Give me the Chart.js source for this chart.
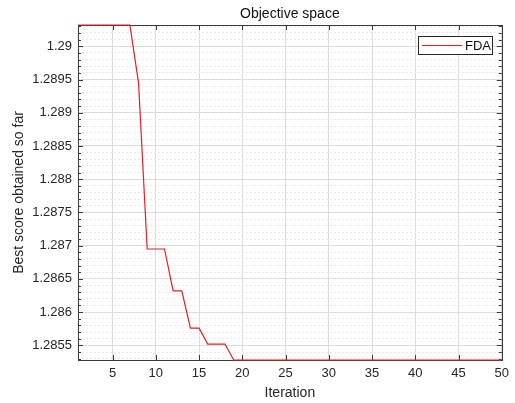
<!DOCTYPE html>
<html>
<head>
<meta charset="utf-8">
<script src="https://cdn.jsdelivr.net/npm/chart.js@4"></script>
<style>
  body { margin: 0; background: #fff; }
  #wrap { width: 515px; height: 403px; }
</style>
</head>
<body>
<div id="wrap"><canvas id="myChart" width="515" height="403"></canvas></div>
<script>
var iterations = [];
for (var i = 1; i <= 50; i++) iterations.push(i);

var bestScore = [
  1.29032, 1.29032, 1.29032, 1.29032, 1.29032, 1.29032, 1.29032,
  1.28945,
  1.28695, 1.28695, 1.28695,
  1.28632, 1.28632,
  1.28576, 1.28576,
  1.28552, 1.28552, 1.28552,
  1.28528, 1.28528, 1.28528, 1.28528, 1.28528, 1.28528, 1.28528, 1.28528,
  1.28528, 1.28528, 1.28528, 1.28528, 1.28528, 1.28528, 1.28528, 1.28528,
  1.28528, 1.28528, 1.28528, 1.28528, 1.28528, 1.28528, 1.28528, 1.28528,
  1.28528, 1.28528, 1.28528, 1.28528, 1.28528, 1.28528, 1.28528, 1.28528
];

var xTicks = [5, 10, 15, 20, 25, 30, 35, 40, 45, 50];
var yTicks = [1.2855, 1.286, 1.2865, 1.287, 1.2875, 1.288, 1.2885, 1.289, 1.2895, 1.29];
var yMinorStep = 0.0001;

var lineColor = 'rgb(228,30,38)';
var font = "'Liberation Sans', Arial, sans-serif";

var yMin = Math.min.apply(null, bestScore);
var yMax = Math.max.apply(null, bestScore);

function isMajorY(v) {
  return yTicks.some(function (t) { return Math.abs(t - v) < 1e-9; });
}

// box around the axes, inward tick marks, legend
var matlabAxes = {
  id: 'matlabAxes',
  beforeDatasetsDraw: function (chart) {
    var c = chart.ctx, a = chart.chartArea;
    var xs = chart.scales.x, ys = chart.scales.y;
    c.save();
    c.strokeStyle = '#3a3a3a';
    c.lineWidth = 1;
    c.strokeRect(Math.round(a.left) + 0.5, Math.round(a.top) + 0.5,
      Math.round(a.right - a.left), Math.round(a.bottom - a.top));
    c.beginPath();
    xs.ticks.forEach(function (t) {
      var px = Math.round(xs.getPixelForValue(t.value)) + 0.5;
      c.moveTo(px, a.bottom); c.lineTo(px, a.bottom - 5);
      c.moveTo(px, a.top); c.lineTo(px, a.top + 5);
    });
    ys.ticks.forEach(function (t) {
      var py = Math.round(ys.getPixelForValue(t.value)) + 0.5;
      var len = isMajorY(t.value) ? 5 : 3;
      c.moveTo(a.left, py); c.lineTo(a.left + len, py);
      c.moveTo(a.right, py); c.lineTo(a.right - len, py);
    });
    c.stroke();
    c.restore();
  },
  afterDraw: function (chart) {
    var c = chart.ctx, a = chart.chartArea;
    var ds = chart.data.datasets[0];
    var right = Math.round(a.right) - 10, top = Math.round(a.top) + 11;
    var w = 74, h = 18;
    c.save();
    c.fillStyle = '#fff';
    c.fillRect(right - w, top, w, h);
    c.strokeStyle = '#262626';
    c.lineWidth = 1;
    c.strokeRect(right - w + 0.5, top + 0.5, w, h);
    c.strokeStyle = ds.borderColor;
    c.lineWidth = 1.2;
    c.beginPath();
    c.moveTo(right - w + 4, top + 9.5);
    c.lineTo(right - w + 44, top + 9.5);
    c.stroke();
    c.fillStyle = '#111';
    c.font = '13px ' + font;
    c.textBaseline = 'middle';
    c.fillText(ds.label, right - w + 47, top + 10);
    c.restore();
  }
};

var ctx = document.getElementById('myChart').getContext('2d');
var myChart = new Chart(ctx, {
  type: 'line',
  data: {
    labels: iterations,
    datasets: [{
      label: 'FDA',
      data: bestScore,
      borderColor: lineColor,
      borderWidth: 1.2,
      pointRadius: 0,
      tension: 0,
      fill: false,
      clip: false
    }]
  },
  options: {
    responsive: false,
    animation: false,
    layout: { padding: 0 },
    scales: {
      x: {
        type: 'linear',
        min: 1,
        max: 50,
        afterBuildTicks: function (scale) {
          scale.ticks = xTicks.map(function (v) { return { value: v }; });
        },
        afterFit: function (scale) { scale.height = 43; },
        ticks: {
          color: '#262626',
          font: { family: font, size: 13 },
          padding: 6,
          maxRotation: 0,
          autoSkip: false
        },
        grid: { color: '#dcdcdc', lineWidth: 1, drawTicks: false },
        border: { display: false },
        title: {
          display: true,
          text: 'Iteration',
          color: '#262626',
          font: { family: font, size: 14 },
          padding: { top: 0, bottom: 1.6 }
        }
      },
      y: {
        type: 'linear',
        min: yMin,
        max: yMax,
        afterBuildTicks: function (scale) {
          var t = [];
          var k0 = Math.ceil(yMin / yMinorStep - 1e-6), k1 = Math.floor(yMax / yMinorStep + 1e-6);
          for (var k = k0; k <= k1; k++) t.push({ value: +(k * yMinorStep).toFixed(4) });
          scale.ticks = t;
        },
        afterFit: function (scale) { scale.width = 78; },
        ticks: {
          color: '#262626',
          font: { family: font, size: 13 },
          padding: 6,
          autoSkip: false,
          callback: function (v) { return isMajorY(v) ? String(+v.toFixed(4)) : ''; }
        },
        grid: {
          drawTicks: false,
          color: function (c) { return c.tick && isMajorY(c.tick.value) ? '#dcdcdc' : '#e9e9e9'; }
        },
        border: {
          display: false,
          dash: function (c) { return c.tick && !isMajorY(c.tick.value) ? [2, 2] : []; }
        },
        title: {
          display: true,
          text: 'Best score obtained so far',
          color: '#262626',
          font: { family: font, size: 14 },
          padding: { top: 10.6, bottom: 0 }
        }
      }
    },
    plugins: {
      legend: { display: false },
      tooltip: { enabled: false },
      title: {
        display: true,
        text: 'Objective space',
        fullSize: false,
        color: '#111',
        font: { family: font, size: 14, weight: 'normal' },
        padding: { top: 6, bottom: 2.2 }
      }
    }
  },
  plugins: [matlabAxes]
});
</script>
</body>
</html>
